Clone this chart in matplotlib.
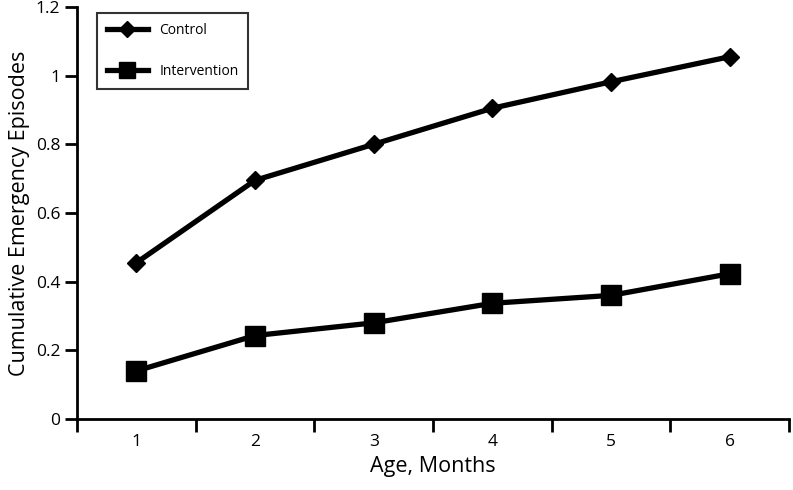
import matplotlib
matplotlib.use("Agg")
import matplotlib.pyplot as plt

months = [1, 2, 3, 4, 5, 6]
control = [0.455, 0.695, 0.80, 0.905, 0.982, 1.055]
intervention = [0.14, 0.243, 0.28, 0.337, 0.36, 0.423]
yticks = [0, 0.2, 0.4, 0.6, 0.8, 1, 1.2]
ytick_labels = ["0", "0.2", "0.4", "0.6", "0.8", "1", "1.2"]

plt.rcParams['font.family'] = ['Open Sans', 'DejaVu Sans']

fig = plt.figure(figsize=(7.93, 4.9), dpi=100)
ax = fig.add_axes([0.0971, 0.1449, 0.898, 0.841])

ax.plot(months, control, color='black', lw=3.8, marker='D', markersize=9, label='Control')
ax.plot(months, intervention, color='black', lw=3.8, marker='s', markersize=14, label='Intervention')

ax.set_xlim(0.5, 6.5)
ax.set_ylim(0, 1.2)
ax.set_yticks(yticks)
ax.set_yticklabels(ytick_labels)
ax.set_xticks(months)
ax.set_xticks([m + 0.5 for m in [0] + months], minor=True)
ax.tick_params(axis='x', which='major', length=0, pad=11, labelsize=12.5)
ax.tick_params(axis='x', which='minor', length=9, width=2, direction='out')
ax.tick_params(axis='y', length=9, width=2, direction='out', labelsize=12.5, pad=3)

for s in ['top', 'right']:
    ax.spines[s].set_visible(False)
for s in ['left', 'bottom']:
    ax.spines[s].set_linewidth(2)

ax.set_xlabel('Age, Months', fontsize=15.5, labelpad=4)
ax.set_ylabel('Cumulative Emergency Episodes', fontsize=15.5, labelpad=4)

leg = ax.legend(loc='upper left', bbox_to_anchor=(0.028, 0.985), borderaxespad=0,
                frameon=True, fancybox=False,
                edgecolor='black', fontsize=10, handlelength=3, labelspacing=1.9,
                borderpad=0.7, markerscale=0.85)
leg.get_frame().set_linewidth(1.5)

fig.savefig('out.png', dpi=100)
